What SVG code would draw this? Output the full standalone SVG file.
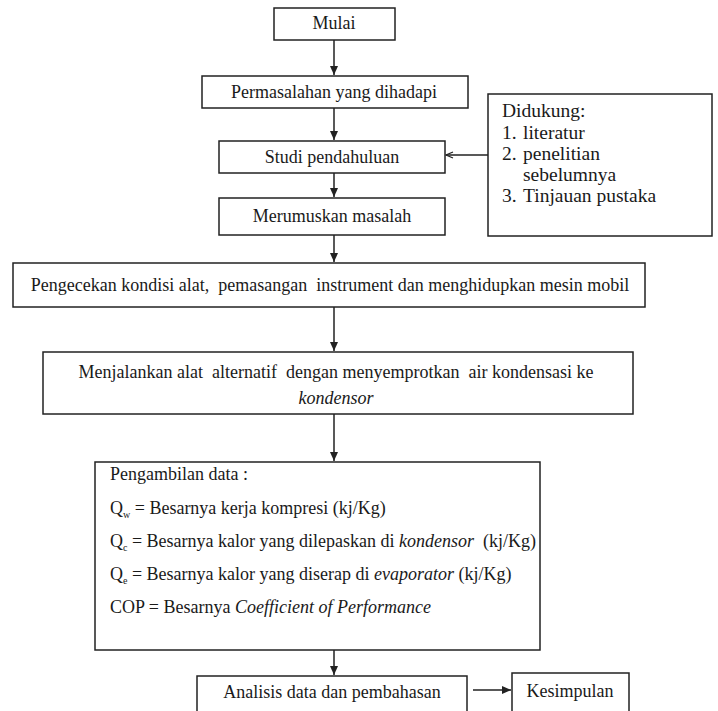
<svg xmlns="http://www.w3.org/2000/svg" width="718" height="711" viewBox="0 0 718 711" font-family="Liberation Serif, Times New Roman, Tinos, DejaVu Serif, serif">
<style>
.box{fill:#fff;stroke:#222;stroke-width:1.5}
text{font-family:'Liberation Serif','Times New Roman',Tinos,'DejaVu Serif',serif;font-size:18px;fill:#1a1a1a;white-space:pre}
.c{text-anchor:middle}
.i{font-style:italic}
.sub{font-size:10px}
.dk{font-size:19.5px}
.ln{stroke:#222;stroke-width:1.5;fill:none}
</style>
<defs>
<marker id="ah" markerWidth="10" markerHeight="10" refX="9" refY="5" orient="auto" markerUnits="userSpaceOnUse">
<path d="M0,1 L9,5 L0,9 Z" fill="#222"/>
</marker>
<marker id="oh" markerWidth="10" markerHeight="10" refX="9" refY="5" orient="auto" markerUnits="userSpaceOnUse">
<path d="M2,2 L9,5 L2,8" fill="none" stroke="#222" stroke-width="1.2"/>
</marker>
</defs>
<rect width="718" height="711" fill="#fff"/>
<g id="connectors">
<line class="ln" x1="334" y1="40" x2="334" y2="75" marker-end="url(#ah)"/>
<line class="ln" x1="334" y1="108" x2="334" y2="140" marker-end="url(#ah)"/>
<line class="ln" x1="334" y1="173" x2="334" y2="197" marker-end="url(#ah)"/>
<line class="ln" x1="334" y1="235" x2="334" y2="262" marker-end="url(#ah)"/>
<line class="ln" x1="334" y1="307" x2="334" y2="351" marker-end="url(#ah)"/>
<line class="ln" x1="334" y1="414" x2="334" y2="461" marker-end="url(#ah)"/>
<line class="ln" x1="334" y1="650" x2="334" y2="675" marker-end="url(#ah)"/>
<line class="ln" x1="473" y1="690" x2="511" y2="690" marker-end="url(#ah)"/>
<line class="ln" x1="488" y1="155" x2="446" y2="155" marker-end="url(#oh)"/>
</g>
<g id="mulai">
<rect class="box" x="274" y="8" width="121" height="32"/>
<text class="c" x="334" y="29">Mulai</text>
</g>
<g id="permasalahan">
<rect class="box" x="202" y="76" width="266" height="32"/>
<text class="c" x="334" y="98">Permasalahan yang dihadapi</text>
</g>
<g id="didukung">
<rect class="box" x="488" y="94" width="224" height="142"/>
<text class="dk" x="502" y="117">Didukung:</text>
<text class="dk" x="502" y="139">1.</text><text class="dk" x="523" y="139">literatur</text>
<text class="dk" x="502" y="160">2.</text><text class="dk" x="523" y="160">penelitian</text>
<text class="dk" x="523" y="181">sebelumnya</text>
<text class="dk" x="502" y="202">3.</text><text class="dk" x="523" y="202">Tinjauan pustaka</text>
</g>
<g id="studi">
<rect class="box" x="219" y="141" width="226" height="32"/>
<text class="c" x="332" y="163">Studi pendahuluan</text>
</g>
<g id="merumuskan">
<rect class="box" x="219" y="198" width="226" height="37"/>
<text class="c" x="332" y="222">Merumuskan masalah</text>
</g>
<g id="pengecekan">
<rect class="box" x="13" y="263" width="632" height="44"/>
<text class="c" x="330" y="291">Pengecekan kondisi alat,  pemasangan  instrument dan menghidupkan mesin mobil</text>
</g>
<g id="menjalankan">
<rect class="box" x="43" y="352" width="590" height="62"/>
<text class="c" x="336" y="378">Menjalankan alat  alternatif  dengan menyemprotkan  air kondensasi ke</text>
<text class="c i" x="336" y="404">kondensor</text>
</g>
<g id="pengambilan">
<rect class="box" x="95" y="462" width="445" height="188"/>
<text x="110" y="480">Pengambilan data :</text>
<text x="110" y="514">Q<tspan class="sub" dy="4">w</tspan><tspan dy="-4"> = Besarnya kerja kompresi (kj/Kg)</tspan></text>
<text x="110" y="547">Q<tspan class="sub" dy="4">c</tspan><tspan dy="-4"> = Besarnya kalor yang dilepaskan di </tspan><tspan class="i">kondensor</tspan><tspan>  (kj/Kg)</tspan></text>
<text x="110" y="580">Q<tspan class="sub" dy="4">e</tspan><tspan dy="-4"> = Besarnya kalor yang diserap di </tspan><tspan class="i">evaporator</tspan><tspan> (kj/Kg)</tspan></text>
<text x="110" y="613">COP = Besarnya <tspan class="i">Coefficient of Performance</tspan></text>
</g>
<g id="analisis">
<rect class="box" x="197" y="676" width="270" height="40"/>
<text class="c" x="332" y="698">Analisis data dan pembahasan</text>
</g>
<g id="kesimpulan">
<rect class="box" x="512" y="673" width="117" height="43"/>
<text class="c" x="570" y="697">Kesimpulan</text>
</g>
</svg>
